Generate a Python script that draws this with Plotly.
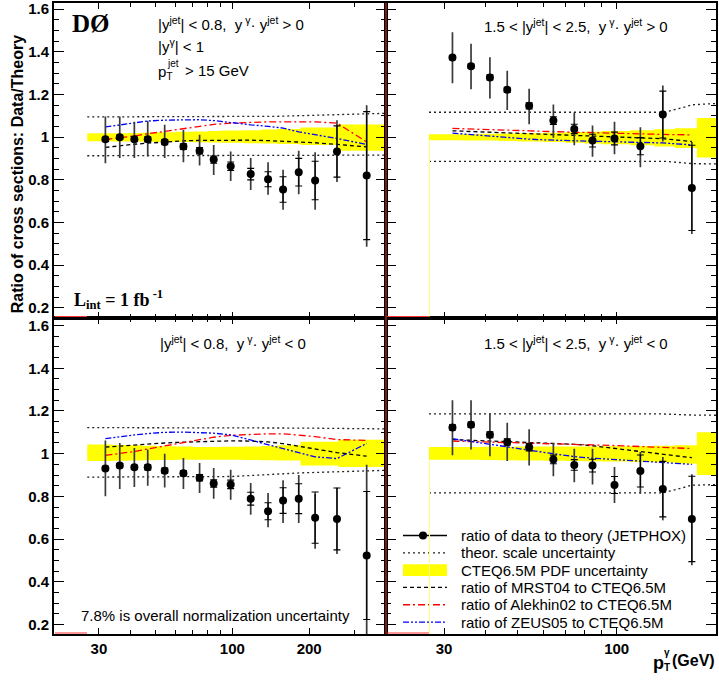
import math
import plotly.graph_objects as go

# ---------------- data ----------------
# photon pT bin centres (GeV)
pt_central = [31.8, 36.2, 41.3, 46.6, 54.3, 64.3, 74.4, 84.5, 98.5, 118, 138, 158, 182, 211, 257, 336]
pt_forward = [31.8, 36.2, 41.3, 46.6, 54.3, 64.3, 74.4, 84.5, 98.5, 118, 138, 169]

# |yjet|<0.8, y*y>0  (top-left)
tl_ratio = [0.99, 1.00, 0.99, 0.99, 0.977, 0.956, 0.937, 0.895, 0.864, 0.827, 0.803, 0.755, 0.836, 0.797, 0.933, 0.82]
tl_err_up = [0.107, 0.097, 0.083, 0.087, 0.081, 0.078, 0.074, 0.069, 0.069, 0.075, 0.080, 0.092, 0.100, 0.133, 0.147, 0.33]
tl_err_dn = [0.112, 0.098, 0.088, 0.080, 0.075, 0.073, 0.070, 0.072, 0.069, 0.074, 0.073, 0.095, 0.103, 0.137, 0.143, 0.333]
tl_stat = [0.010, 0.010, 0.010, 0.012, 0.012, 0.013, 0.015, 0.017, 0.020, 0.027, 0.035, 0.060, 0.065, 0.090, 0.120, 0.30]

# 1.5<|yjet|<2.5, y*y>0  (top-right)
tr_ratio = [1.373, 1.333, 1.28, 1.222, 1.147, 1.078, 1.039, 0.984, 0.994, 0.958, 1.106, 0.7625]
tr_err_up = [0.119, 0.105, 0.095, 0.090, 0.080, 0.075, 0.077, 0.071, 0.079, 0.089, 0.136, 0.215]
tr_err_dn = [0.120, 0.108, 0.099, 0.094, 0.086, 0.080, 0.077, 0.076, 0.074, 0.099, 0.126, 0.216]
tr_stat = [0.010, 0.010, 0.012, 0.012, 0.014, 0.018, 0.022, 0.030, 0.030, 0.040, 0.110, 0.20]

# |yjet|<0.8, y*y<0  (bottom-left)
bl_ratio = [0.931, 0.944, 0.936, 0.936, 0.92, 0.908, 0.8875, 0.86, 0.856, 0.789, 0.73, 0.78, 0.789, 0.70, 0.694, 0.523]
bl_err_up = [0.131, 0.106, 0.091, 0.084, 0.080, 0.072, 0.069, 0.073, 0.069, 0.074, 0.086, 0.095, 0.111, 0.1125, 0.146, 0.425]
bl_err_dn = [0.131, 0.110, 0.092, 0.086, 0.078, 0.074, 0.072, 0.071, 0.072, 0.075, 0.075, 0.105, 0.114, 0.145, 0.164, 0.423]
bl_stat = [0.010, 0.010, 0.010, 0.012, 0.012, 0.013, 0.015, 0.017, 0.020, 0.030, 0.040, 0.060, 0.070, 0.120, 0.145, 0.30]

# 1.5<|yjet|<2.5, y*y<0  (bottom-right)
br_ratio = [1.123, 1.136, 1.089, 1.055, 1.03, 0.973, 0.947, 0.944, 0.853, 0.919, 0.834, 0.694]
br_err_up = [0.127, 0.114, 0.0985, 0.090, 0.084, 0.077, 0.076, 0.079, 0.0845, 0.089, 0.150, 0.209]
br_err_dn = [0.131, 0.116, 0.1015, 0.089, 0.085, 0.079, 0.081, 0.088, 0.084, 0.1065, 0.1465, 0.217]
br_stat = [0.012, 0.012, 0.014, 0.015, 0.017, 0.020, 0.025, 0.030, 0.040, 0.075, 0.130, 0.20]

# CTEQ6.5M PDF uncertainty band (bin edges + upper/lower per bin)
band_edges_central = [27, 34, 39, 44, 50, 60, 70, 80, 90, 110, 130, 150, 185, 260, 400]
tl_band_up = [1.018, 1.019, 1.020, 1.021, 1.023, 1.025, 1.027, 1.029, 1.031, 1.033, 1.036, 1.039, 1.045, 1.060]
tl_band_dn = [0.981, 0.980, 0.980, 0.979, 0.978, 0.977, 0.976, 0.975, 0.974, 0.972, 0.970, 0.968, 0.963, 0.937]
bl_band_up = [1.043, 1.041, 1.039, 1.037, 1.035, 1.033, 1.031, 1.031, 1.032, 1.034, 1.036, 1.039, 1.056, 1.065]
bl_band_dn = [0.966, 0.967, 0.968, 0.969, 0.970, 0.971, 0.972, 0.972, 0.971, 0.970, 0.969, 0.968, 0.944, 0.938]
band_edges_forward = [27, 34, 39, 44, 50, 60, 70, 80, 90, 110, 130, 150, 175, 200]
tr_band_up = [1.014, 1.015, 1.016, 1.017, 1.019, 1.021, 1.024, 1.026, 1.029, 1.033, 1.037, 1.042, 1.090]
tr_band_dn = [0.986, 0.985, 0.984, 0.982, 0.980, 0.977, 0.974, 0.971, 0.967, 0.962, 0.956, 0.950, 0.905]
br_band_up = [1.031, 1.031, 1.032, 1.032, 1.033, 1.033, 1.034, 1.034, 1.035, 1.036, 1.037, 1.039, 1.100]
br_band_dn = [0.972, 0.971, 0.970, 0.969, 0.968, 0.967, 0.966, 0.965, 0.963, 0.961, 0.958, 0.953, 0.900]

# theoretical scale uncertainty
tl_scale_x = [27, 150, 400]
tl_scale_up = [1.095, 1.098, 1.112]
tl_scale_dn = [0.913, 0.913, 0.916]
tr_scale_x = [27, 140, 170, 200]
tr_scale_up = [1.117, 1.117, 1.152, 1.158]
tr_scale_dn = [0.887, 0.887, 0.876, 0.875]
bl_scale_x = [27, 100, 185, 400]
bl_scale_up = [1.122, 1.122, 1.120, 1.116]
bl_scale_dn = [0.890, 0.893, 0.910, 0.922]
br_scale_x = [27, 138, 169, 200]
br_scale_up = [1.186, 1.186, 1.181, 1.180]
br_scale_dn = [0.816, 0.816, 0.852, 0.855]

# ratios of other PDFs to CTEQ6.5M
tl_mrst = [0.952, 0.960, 0.967, 0.972, 0.978, 0.983, 0.985, 0.986, 0.986, 0.986, 0.984, 0.981, 0.978, 0.974, 0.966, 0.955]
tl_alek = [0.989, 0.996, 1.006, 1.016, 1.028, 1.040, 1.052, 1.060, 1.066, 1.070, 1.072, 1.072, 1.072, 1.072, 1.066, 0.978]
tl_zeus = [1.048, 1.058, 1.068, 1.076, 1.080, 1.082, 1.082, 1.078, 1.068, 1.058, 1.051, 1.043, 1.025, 1.012, 0.994, 0.966]
tr_mrst = [1.030, 1.027, 1.024, 1.020, 1.016, 1.012, 1.008, 1.005, 1.003, 0.998, 0.993, 0.980]
tr_alek = [1.041, 1.039, 1.036, 1.033, 1.030, 1.026, 1.023, 1.020, 1.017, 1.015, 1.013, 1.011]
tr_zeus = [1.019, 1.012, 1.004, 0.998, 0.991, 0.986, 0.983, 0.982, 0.980, 0.977, 0.973, 0.964]
bl_mrst = [1.031, 1.036, 1.042, 1.046, 1.050, 1.054, 1.057, 1.059, 1.060, 1.059, 1.055, 1.047, 1.034, 1.020, 1.005, 0.988]
bl_alek = [0.992, 1.000, 1.010, 1.022, 1.036, 1.052, 1.066, 1.077, 1.086, 1.091, 1.093, 1.093, 1.088, 1.080, 1.066, 1.062]
bl_zeus = [1.070, 1.080, 1.088, 1.094, 1.100, 1.101, 1.099, 1.096, 1.088, 1.064, 1.042, 1.025, 1.005, 0.985, 0.977, 1.048]
br_mrst = [1.066, 1.063, 1.060, 1.057, 1.054, 1.050, 1.044, 1.037, 1.025, 1.010, 0.997, 0.981]
br_alek = [1.059, 1.057, 1.055, 1.053, 1.050, 1.047, 1.044, 1.041, 1.038, 1.034, 1.030, 1.024]
br_zeus = [1.070, 1.058, 1.045, 1.032, 1.016, 1.000, 0.986, 0.979, 0.972, 0.965, 0.959, 0.950]

legend_labels = ["ratio of data to theory (JETPHOX)", "theor. scale uncertainty",
                 "CTEQ6.5M PDF uncertainty", "ratio of MRST04 to CTEQ6.5M",
                 "ratio of Alekhin02 to CTEQ6.5M", "ratio of ZEUS05 to CTEQ6.5M"]

# ---------------- layout geometry ----------------
W, H = 719, 680
ML, MR, MT, MB = 54, 3, 0, 46
PW = W - ML - MR
PH = H - MT - MB


def PX(px):
    return (px - ML) / PW


def PY(py):
    return (H - MB - py) / PH


SANS = "Liberation Sans, Arial, Helvetica, sans-serif"
SERIF = "Liberation Serif, Times New Roman, serif"
DASH_MRST = "4px,3px"
DASH_ALEK = "7px,3px,2px,3px"
DASH_ZEUS = "6px,2px,2px,2px,2px,2px"
DASH_SCALE = "2px,3px"

fig = go.Figure()


def add_panel(xa, ya, x, ratio, eu, ed, st, edges, bup, bdn, sx, sup, sdn, mrst, alek, zeus):
    ax = dict(xaxis=xa, yaxis=ya, showlegend=False, hoverinfo="skip")
    # PDF band (step)
    fig.add_trace(go.Scatter(x=edges, y=bdn + [bdn[-1]], mode="lines", line=dict(width=0, shape="hv"), **ax))
    fig.add_trace(go.Scatter(x=edges, y=bup + [bup[-1]], mode="lines", line=dict(width=0, shape="hv"),
                             fill="tonexty", fillcolor="#ffff00", **ax))
    # scale uncertainty
    for arr in (sup, sdn):
        fig.add_trace(go.Scatter(x=sx, y=arr, mode="lines",
                                 line=dict(color="#222222", width=1.3, dash=DASH_SCALE), **ax))
    # PDF ratios
    fig.add_trace(go.Scatter(x=x, y=mrst, mode="lines", line=dict(color="black", width=1.3, dash=DASH_MRST), **ax))
    fig.add_trace(go.Scatter(x=x, y=alek, mode="lines", line=dict(color="#ff0000", width=1.3, dash=DASH_ALEK), **ax))
    fig.add_trace(go.Scatter(x=x, y=zeus, mode="lines", line=dict(color="#0000ff", width=1.3, dash=DASH_ZEUS), **ax))
    # total errors
    fig.add_trace(go.Scatter(x=x, y=ratio, mode="markers", marker=dict(size=1, color="rgba(0,0,0,0)"),
                             error_y=dict(type="data", symmetric=False, array=eu, arrayminus=ed,
                                          color="#3a3a3a", thickness=1.7, width=0), **ax))
    # statistical errors + points
    fig.add_trace(go.Scatter(x=x, y=ratio, mode="markers", marker=dict(size=8, color="black"),
                             error_y=dict(type="data", array=st, color="black", thickness=1.1, width=3.5), **ax))


add_panel("x", "y", pt_central, tl_ratio, tl_err_up, tl_err_dn, tl_stat, band_edges_central, tl_band_up, tl_band_dn,
          tl_scale_x, tl_scale_up, tl_scale_dn, tl_mrst, tl_alek, tl_zeus)
add_panel("x2", "y2", pt_forward, tr_ratio, tr_err_up, tr_err_dn, tr_stat, band_edges_forward, tr_band_up, tr_band_dn,
          tr_scale_x, tr_scale_up, tr_scale_dn, tr_mrst, tr_alek, tr_zeus)
add_panel("x3", "y3", pt_central, bl_ratio, bl_err_up, bl_err_dn, bl_stat, band_edges_central, bl_band_up, bl_band_dn,
          bl_scale_x, bl_scale_up, bl_scale_dn, bl_mrst, bl_alek, bl_zeus)
add_panel("x4", "y4", pt_forward, br_ratio, br_err_up, br_err_dn, br_stat, band_edges_forward, br_band_up, br_band_dn,
          br_scale_x, br_scale_up, br_scale_dn, br_mrst, br_alek, br_zeus)

xsplit = PX(386)
ysplit = PY(316)
tickfont = dict(family=SANS, size=15, color="black", weight="bold")


def xaxis(domain, anchor, rng_max, labels, tvals, minor_vals):
    return dict(domain=domain, anchor=anchor, type="log", range=[math.log10(20), math.log10(rng_max)],
                showline=True, linewidth=2, linecolor="black", mirror="ticks",
                ticks="inside", ticklen=6, tickwidth=1.2, tickcolor="black",
                tickvals=tvals, ticktext=[str(v) for v in tvals], showticklabels=labels,
                tickfont=tickfont, showgrid=False, zeroline=False,
                minor=dict(tickvals=minor_vals, ticks="inside", ticklen=4, tickwidth=1.1,
                           tickcolor="black", showgrid=False))


def yaxis(domain, anchor, rng, labels):
    return dict(domain=domain, anchor=anchor, range=rng, showline=True, linewidth=2, linecolor="black",
                mirror="ticks", ticks="inside", ticklen=10, tickwidth=1.3, tickcolor="black",
                tick0=0.2, dtick=0.2, showticklabels=labels, tickfont=tickfont,
                ticklabeloverflow="allow",
                showgrid=False, zeroline=False,
                minor=dict(dtick=0.05, tick0=0.15, ticks="inside", ticklen=5, tickwidth=1.1,
                           tickcolor="black", showgrid=False))


minor_c = [40, 50, 60, 70, 80, 90, 300, 400]
minor_f = [40, 50, 60, 70, 80, 90]
top_rng = [0.155, 1.629]
bot_rng = [0.155, 1.638]

fig.update_layout(
    width=W, height=H, margin=dict(l=ML, r=MR, t=MT, b=MB),
    paper_bgcolor="white", plot_bgcolor="white", showlegend=False,
    font=dict(family=SANS, color="black"),
    xaxis=xaxis([0, xsplit], "y", 400, False, [30, 100, 200], minor_c),
    xaxis2=xaxis([xsplit, 1], "y2", 200, False, [30, 100], minor_f),
    xaxis3=xaxis([0, xsplit], "y3", 400, True, [30, 100, 200], minor_c),
    xaxis4=xaxis([xsplit, 1], "y4", 200, True, [30, 100], minor_f),
    yaxis=yaxis([ysplit, 1], "x", top_rng, True),
    yaxis2=yaxis([ysplit, 1], "x2", top_rng, False),
    yaxis3=yaxis([0, ysplit], "x3", bot_rng, True),
    yaxis4=yaxis([0, ysplit], "x4", bot_rng, False),
)

ann = []


def text(px, py, s, size=15, family=SANS, bold=False, anchor="left", angle=0):
    ann.append(dict(xref="paper", yref="paper", x=PX(px), y=PY(py), text=s, showarrow=False,
                    xanchor=anchor, yanchor="middle", textangle=angle,
                    font=dict(family=family, size=size, color="black", weight="bold" if bold else "normal")))


text(70, 21, "DØ", size=25, family=SERIF, bold=True)
text(156, 21, "|y<sup>jet</sup>| < 0.8,  y<sup> γ</sup>· y<sup>jet</sup> > 0")
text(156, 43, "|y<sup>γ</sup>| < 1")
text(156, 70, "p<sub>T</sub>")
text(165, 61, "jet", size=10)
text(183, 68, "> 15 GeV")
text(72, 298, "L<sub>int</sub> = 1 fb<sup> -1</sup>", size=18, family=SERIF, bold=True)
text(482, 23, "1.5 < |y<sup>jet</sup>| < 2.5,  y<sup> γ</sup>· y<sup>jet</sup> > 0")
text(158, 341, "|y<sup>jet</sup>| < 0.8,  y<sup> γ</sup>· y<sup>jet</sup> < 0")
text(482, 341, "1.5 < |y<sup>jet</sup>| < 2.5,  y<sup> γ</sup>· y<sup>jet</sup> < 0")
text(79, 615, "7.8% is overall normalization uncertainty")
# axis titles
text(17, 172, "Ratio of cross sections: Data/Theory", size=16, bold=True, anchor="center", angle=-90)
text(651, 663, "p", size=18, bold=True)
text(662, 668, "T", size=10, bold=True)
text(662, 653, "γ", size=10, bold=True)
text(670, 661, "(GeV)", size=16, bold=True)

# legend
leg_y = [535, 552.4, 569.8, 587.2, 604.6, 622]
for yy, lab in zip(leg_y, legend_labels):
    text(459, yy, lab, size=15)

shapes = []


def seg(x0, y0, x1, y1, color, width=1.3, dash="solid"):
    shapes.append(dict(type="line", xref="paper", yref="paper", x0=PX(x0), y0=PY(y0), x1=PX(x1), y1=PY(y1),
                       line=dict(color=color, width=width, dash=dash), layer="above"))


seg(403, leg_y[0], 447, leg_y[0], "black", 1.5)
shapes.append(dict(type="circle", xref="paper", yref="paper", x0=PX(419), x1=PX(427), y0=PY(leg_y[0] - 4),
                   y1=PY(leg_y[0] + 4), fillcolor="black", line=dict(width=0), layer="above"))
seg(403, leg_y[1], 447, leg_y[1], "#222222", 1.3, DASH_SCALE)
shapes.append(dict(type="rect", xref="paper", yref="paper", x0=PX(403), x1=PX(447), y0=PY(leg_y[2] - 6),
                   y1=PY(leg_y[2] + 6), fillcolor="#ffff00", line=dict(width=0), layer="above"))
seg(403, leg_y[3], 447, leg_y[3], "black", 1.3, DASH_MRST)
seg(403, leg_y[4], 447, leg_y[4], "#ff0000", 1.3, DASH_ALEK)
seg(403, leg_y[5], 447, leg_y[5], "#0000ff", 1.3, DASH_ZEUS)

# small drawing artefacts of the original (histogram edges)
seg(386, 0, 386, 634, "#ff3030", 1)
for yb in (315, 633):
    seg(55, yb, 87, yb, "#ff3030", 1)
    seg(387, yb, 429, yb, "#ff3030", 1)
seg(429.5, 138, 429.5, 315, "#ffff80", 1)
seg(429.5, 460, 429.5, 633, "#ffff80", 1)

fig.update_layout(annotations=ann, shapes=shapes)
fig.write_html("out.html", config={"displayModeBar": False},
               post_script="document.body.style.margin='0';document.body.style.padding='0';")
